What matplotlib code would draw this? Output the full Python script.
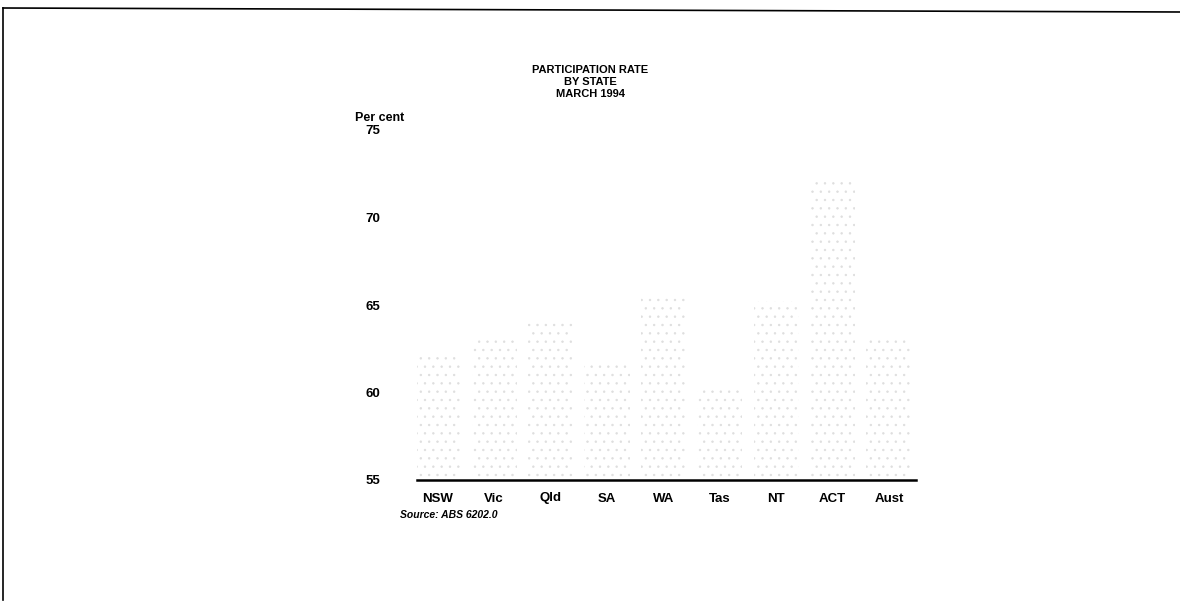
import numpy as np
import matplotlib
matplotlib.use("Agg")
import matplotlib.pyplot as plt

# participation rate by state, March 1994
states = ["NSW", "Vic", "Qld", "SA", "WA", "Tas", "NT", "ACT", "Aust"]
rate = [62.2, 63.3, 64.2, 61.6, 65.7, 60.2, 65.2, 72.3, 63.1]
yticks = [55, 60, 65, 70, 75]

plt.rcParams['font.family'] = ['Liberation Sans', 'DejaVu Sans']
plt.rcParams['hatch.linewidth'] = 0.5

fig = plt.figure(figsize=(11.8, 6.04), dpi=100)
W, H = 1180, 604

ax = fig.add_axes([417 / W, 1 - 480 / H, (916 - 417) / W, (480 - 130) / H])

x = np.arange(len(states))
# the scanned bars are just faint speckles
ax.bar(x, np.array(rate) - 55, bottom=55, width=0.8, color="white",
       edgecolor="#dedede", hatch="..", linewidth=0)

ax.set_ylim(55, 75)
ax.set_xlim(-0.37, 8.48)
ax.set_yticks(yticks)
ax.set_yticklabels([str(v) for v in yticks], fontweight="bold", fontsize=9.5,
                   ha="center")
ax.set_xticks(x)
ax.set_xticklabels(states, fontweight="bold", fontsize=9.5)
ax.tick_params(axis="y", length=0, pad=32)
ax.tick_params(axis="x", length=0, pad=9)
for s in ["top", "right", "left"]:
    ax.spines[s].set_visible(False)
ax.spines["bottom"].set_linewidth(1.8)

# title block
for i, line in enumerate(["PARTICIPATION RATE", "BY STATE", "MARCH 1994"]):
    fig.text(590 / W, 1 - (70 + 12 * i) / H, line, ha="center", va="center",
             fontsize=8, fontweight="bold")

fig.text(380 / W, 1 - 118 / H, "Per cent", ha="center", va="center",
         fontsize=9, fontweight="bold")
fig.text(400 / W, 1 - 515 / H, "Source: ABS 6202.0", ha="left", va="center",
         fontsize=7.5, fontweight="bold", style="italic")

# scanned page frame (top and left edges)
fig.add_artist(plt.Line2D([3 / W, 1], [1 - 8 / H, 1 - 12 / H], color="black",
                          lw=1.2, transform=fig.transFigure))
fig.add_artist(plt.Line2D([3 / W, 3 / W], [1 - 8 / H, 1 - 600 / H],
                          color="black", lw=1.2, transform=fig.transFigure))

fig.savefig("out.png", dpi=100)
